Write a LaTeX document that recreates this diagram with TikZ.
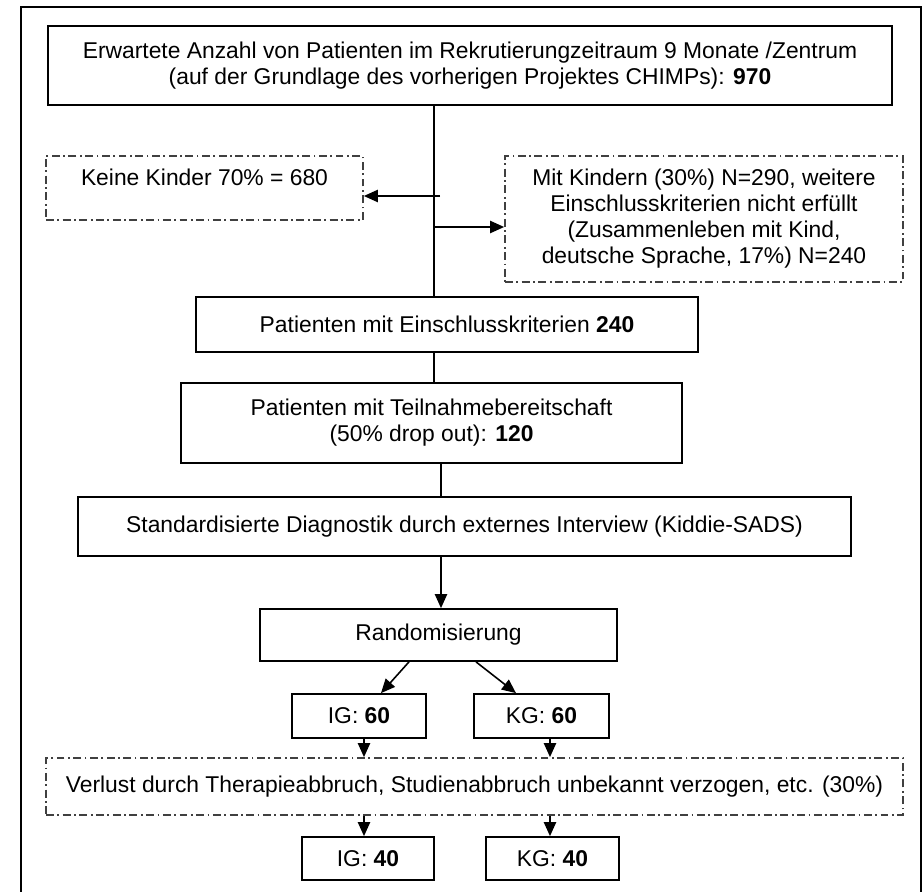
\documentclass[tikz,border=0pt]{standalone}
\usepackage{fontspec}
\setmainfont{Liberation Sans}
\usetikzlibrary{arrows.meta,positioning,calc}

\begin{document}
\begin{tikzpicture}[x=0.02cm, y=-0.02cm, >={Triangle[width=7pt,length=8pt]},
    box/.style={draw, line width=1pt, fill=white, align=center, inner sep=2pt, font=\fontsize{13}{14.8}\selectfont},
    dbox/.style={box, draw=black!75, dash pattern=on 4.5pt off 2pt on 1pt off 2pt},
    link/.style={line width=0.9pt}]
  \useasboundingbox (0,0) rectangle (924,892);
  % outer frame, open at the bottom
  \draw[line width=1.2pt] (21,892) -- (21,7) -- (921,7) -- (921,892);
  % main column
  \node[box, minimum width=844*0.02cm, minimum height=79*0.02cm] (erw) at (470,65.5)
    {Erwartete Anzahl von Patienten im Rekrutierungzeitraum 9 Monate /Zentrum\\ (auf der Grundlage des vorherigen Projektes CHIMPs): \textbf{970}};
  \node[dbox, minimum width=317*0.02cm, minimum height=64*0.02cm, text depth=0.45cm] (keine) at (204.5,188)
    {Keine Kinder 70\% = 680};
  \node[dbox, minimum width=398*0.02cm, minimum height=126*0.02cm] (mit) at (704,219)
    {Mit Kindern (30\%) N=290, weitere\\ Einschlusskriterien nicht erfüllt\\ (Zusammenleben mit Kind,\\ deutsche Sprache, 17\%) N=240};
  \node[box, minimum width=502*0.02cm, minimum height=55*0.02cm] (ein) at (447,324.5)
    {Patienten mit Einschlusskriterien \textbf{240}};
  \node[box, minimum width=501*0.02cm, minimum height=80*0.02cm] (teil) at (431.5,423)
    {Patienten mit Teilnahmebereitschaft\\ (50\% drop out): \textbf{120}};
  \node[box, minimum width=773*0.02cm, minimum height=59*0.02cm] (diag) at (464.5,526.5)
    {Standardisierte Diagnostik durch externes Interview (Kiddie-SADS)};
  \node[box, minimum width=357*0.02cm, minimum height=52*0.02cm] (rand) at (438.5,635)
    {Randomisierung};
  \node[box, minimum width=134*0.02cm, minimum height=44*0.02cm] (ig1) at (359,716) {IG: \textbf{60}};
  \node[box, minimum width=135*0.02cm, minimum height=44*0.02cm] (kg1) at (541.5,716) {KG: \textbf{60}};
  \node[dbox, minimum width=857*0.02cm, minimum height=57*0.02cm] (verl) at (474.5,786.5)
    {Verlust durch Therapieabbruch, Studienabbruch unbekannt verzogen, etc. (30\%)};
  \node[box, minimum width=132*0.02cm, minimum height=43*0.02cm] (ig2) at (368,858.5) {IG: \textbf{40}};
  \node[box, minimum width=133*0.02cm, minimum height=43*0.02cm] (kg2) at (552.5,858.5) {KG: \textbf{40}};
  % trunk and branches
  \coordinate (tr) at (434,0);
  \coordinate (tr2) at (441,0);
  \coordinate (lg) at (364,0);
  \coordinate (rg) at (550,0);
  \draw[link] (erw.south -| tr) -- (ein.north -| tr);
  \draw[link, ->] (440,196) -- (keine.east |- 0,196);
  \draw[link, ->] (tr |- 0,227) -- (mit.west |- 0,227);
  \draw[link] (ein.south -| tr) -- (teil.north -| tr);
  \draw[link] (teil.south -| tr2) -- (diag.north -| tr2);
  \draw[link, ->] (diag.south -| tr2) -- (rand.north -| tr2);
  \draw[link, ->] (rand.south -| 409,0) -- (ig1.north -| 381,0);
  \draw[link, ->] (rand.south -| 476,0) -- (kg1.north -| 516,0);
  \draw[link, ->] (ig1.south -| lg) -- (verl.north -| lg);
  \draw[link, ->] (kg1.south -| rg) -- (verl.north -| rg);
  \draw[link, ->] (verl.south -| lg) -- (ig2.north -| lg);
  \draw[link, ->] (verl.south -| rg) -- (kg2.north -| rg);
\end{tikzpicture}
\end{document}
